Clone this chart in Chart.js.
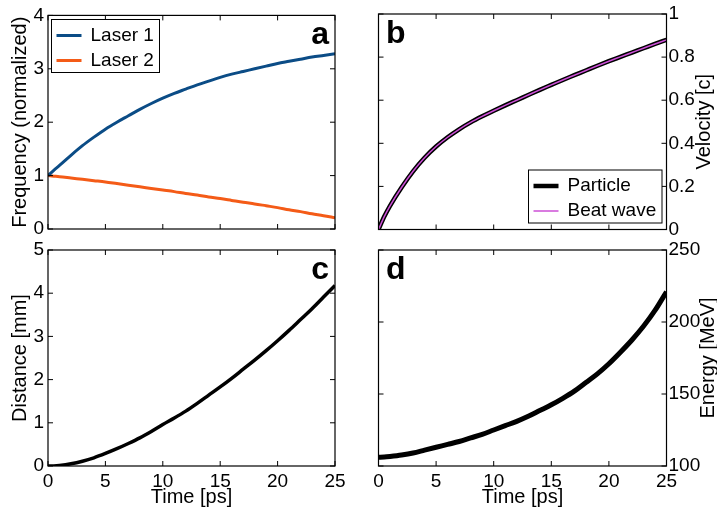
<!DOCTYPE html>
<html>
<head>
<meta charset="utf-8">
<title>Beat wave acceleration</title>
<script src="https://cdn.jsdelivr.net/npm/chart.js@4.4.1/dist/chart.umd.min.js"></script>
<style>
  html, body { margin: 0; padding: 0; background: #fff; }
  #wrap { position: relative; width: 717px; height: 508px; overflow: hidden; }
  #wrap canvas { position: absolute; left: 0; top: 0; }
</style>
</head>
<body>
<div id="wrap">
  <canvas id="panelA" width="717" height="508"></canvas>
  <canvas id="panelB" width="717" height="508"></canvas>
  <canvas id="panelC" width="717" height="508"></canvas>
  <canvas id="panelD" width="717" height="508"></canvas>
</div>
<script>
// values, time in ps
const time = [0, 0.5, 1, 2, 3, 4, 5, 6, 7, 8, 9, 10, 11, 12, 13, 14, 15, 16, 17, 18, 19, 20, 21, 22, 23, 24, 25];
const laser1 = [1.00, 1.10, 1.19, 1.38, 1.56, 1.72, 1.87, 2.00, 2.12, 2.24, 2.35, 2.45, 2.54, 2.62, 2.70, 2.77, 2.84, 2.90, 2.95, 3.00, 3.05, 3.10, 3.14, 3.18, 3.22, 3.25, 3.28];
const laser2 = [1.00, 0.99, 0.98, 0.955, 0.93, 0.905, 0.88, 0.85, 0.82, 0.79, 0.76, 0.73, 0.70, 0.665, 0.635, 0.60, 0.57, 0.535, 0.50, 0.47, 0.435, 0.40, 0.36, 0.325, 0.285, 0.25, 0.21];
const particleVelocity = [0, 0.06, 0.11, 0.195, 0.27, 0.333, 0.385, 0.428, 0.465, 0.497, 0.525, 0.551, 0.576, 0.60, 0.624, 0.648, 0.671, 0.694, 0.716, 0.738, 0.76, 0.781, 0.801, 0.821, 0.841, 0.861, 0.88];
const beatWaveVelocity = [0, 0.06, 0.11, 0.195, 0.27, 0.333, 0.385, 0.428, 0.465, 0.497, 0.525, 0.551, 0.576, 0.60, 0.624, 0.648, 0.671, 0.694, 0.716, 0.738, 0.76, 0.781, 0.801, 0.821, 0.841, 0.861, 0.88];
const distance = [0, 0.002, 0.012, 0.05, 0.11, 0.19, 0.29, 0.40, 0.52, 0.65, 0.80, 0.96, 1.11, 1.27, 1.45, 1.64, 1.83, 2.03, 2.24, 2.45, 2.67, 2.90, 3.14, 3.39, 3.64, 3.91, 4.18];
const energy = [106, 106.2, 106.6, 107.6, 109, 111, 113, 115, 117, 119.5, 122, 125, 128, 131, 134.5, 138.5, 142.5, 147, 152, 158, 164, 171, 179, 187.5, 197, 208, 221];

const FONT = "'Liberation Sans', Arial, Helvetica, sans-serif";
Chart.defaults.font.family = FONT;
Chart.defaults.font.size = 19;
Chart.defaults.color = '#000';

function pts(ys) {
    return time.map((t, i) => ({ x: t, y: ys[i] }));
}

// box round the plot, inward ticks on all four sides and the panel letter
const matlabFrame = {
    id: 'matlabFrame',
    afterDraw(chart, args, o) {
        const ctx = chart.ctx;
        const a = chart.chartArea;
        const sx = chart.scales.x, sy = chart.scales.y;
        ctx.save();
        ctx.strokeStyle = '#000';
        ctx.lineWidth = 1;
        ctx.beginPath();
        sx.ticks.forEach(t => {
            const px = sx.getPixelForValue(t.value);
            ctx.moveTo(px, a.bottom); ctx.lineTo(px, a.bottom - 5);
            ctx.moveTo(px, a.top); ctx.lineTo(px, a.top + 5);
        });
        sy.ticks.forEach(t => {
            const py = sy.getPixelForValue(t.value);
            ctx.moveTo(a.left, py); ctx.lineTo(a.left + 5, py);
            ctx.moveTo(a.right, py); ctx.lineTo(a.right - 5, py);
        });
        ctx.stroke();
        ctx.lineWidth = 1.2;
        ctx.strokeRect(a.left, a.top, a.right - a.left, a.bottom - a.top);

        // panel letter
        ctx.font = 'bold 32px ' + FONT;
        ctx.fillStyle = '#000';
        ctx.textBaseline = 'alphabetic';
        if (o.side === 'right') {
            ctx.textAlign = 'right';
            ctx.fillText(o.letter, a.right - 6, a.top + 28.5);
        } else {
            ctx.textAlign = 'left';
            ctx.fillText(o.letter, a.left + 7.5, a.top + 28.5);
        }

        // title of a right-hand axis, reading upwards like the left ones
        if (o.rightTitle) {
            ctx.font = '20px ' + FONT;
            ctx.textAlign = 'center';
            ctx.textBaseline = 'middle';
            ctx.translate(o.rightTitleX, (a.top + a.bottom) / 2);
            ctx.rotate(-Math.PI / 2);
            ctx.fillText(o.rightTitle, 0, 0);
        }
        ctx.restore();
    }
};

// legend in a framed box inside the plot
const boxLegend = {
    id: 'boxLegend',
    afterDraw(chart, args, o) {
        if (!o.show) return;
        const ctx = chart.ctx;
        ctx.save();
        ctx.fillStyle = '#fff';
        ctx.fillRect(o.x, o.y, o.w, o.h);
        ctx.strokeStyle = '#000';
        ctx.lineWidth = 1;
        ctx.strokeRect(o.x, o.y, o.w, o.h);
        ctx.font = '19px ' + FONT;
        ctx.textBaseline = 'middle';
        ctx.textAlign = 'left';
        chart.data.datasets.forEach((ds, i) => {
            const cy = o.y + 16 + i * 25;
            ctx.strokeStyle = ds.borderColor;
            ctx.lineWidth = ds.borderWidth;
            ctx.beginPath();
            ctx.moveTo(o.x + 5, cy);
            ctx.lineTo(o.x + 30, cy);
            ctx.stroke();
            ctx.fillStyle = '#000';
            ctx.fillText(ds.label, o.x + 39, cy);
        });
        ctx.restore();
    }
};

function timeAxis(showLabels) {
    return {
        type: 'linear',
        min: 0,
        max: 25,
        grid: { display: false, drawTicks: false },
        border: { display: false },
        ticks: { stepSize: 5, display: showLabels, padding: 4, maxRotation: 0, autoSkip: false },
        title: { display: showLabels, text: 'Time [ps]', font: { size: 20 }, padding: { top: 0, bottom: -1 } },
        afterFit: s => { s.height = showLabels ? 42 : 0; }
    };
}

function valueAxis(side, min, max, step, title) {
    return {
        type: 'linear',
        position: side,
        min: min,
        max: max,
        grid: { display: false, drawTicks: false },
        border: { display: false },
        ticks: {
            stepSize: step,
            padding: side === 'left' ? 4 : 2,
            callback: v => String(Number(v.toFixed(2)))
        },
        title: { display: side === 'left', text: title, font: { size: 20 }, padding: { top: 8, bottom: 0 } },
        afterFit: s => { s.width = side === 'left' ? 48 : 50; }
    };
}

function makePanel(id, datasets, yAxis, showTime, padding, frame, legend) {
    new Chart(document.getElementById(id), {
        type: 'line',
        data: { datasets: datasets },
        options: {
            responsive: false,
            devicePixelRatio: 1,
            animation: false,
            layout: { padding: padding },
            elements: { point: { radius: 0 }, line: { cubicInterpolationMode: 'monotone' } },
            scales: { x: timeAxis(showTime), y: yAxis },
            plugins: {
                legend: { display: false },
                tooltip: { enabled: false },
                matlabFrame: frame,
                boxLegend: legend || { show: false }
            }
        },
        plugins: [matlabFrame, boxLegend]
    });
}

// a: laser frequencies
makePanel('panelA', [
    { label: 'Laser 1', data: pts(laser1), borderColor: '#0b4c86', borderWidth: 3 },
    { label: 'Laser 2', data: pts(laser2), borderColor: '#f45b17', borderWidth: 3 }
], valueAxis('left', 0, 4, 1, 'Frequency (normalized)'), false,
    { top: 14, left: 0, right: 382, bottom: 279 },
    { letter: 'a', side: 'right' },
    { show: true, x: 51.5, y: 19.5, w: 108, h: 53 });

// b: velocities
makePanel('panelB', [
    { label: 'Particle', data: pts(particleVelocity), borderColor: '#000', borderWidth: 4.5, order: 1 },
    { label: 'Beat wave', data: pts(beatWaveVelocity), borderColor: '#cc4fd6', borderWidth: 1.5, order: 0 }
], valueAxis('right', 0, 1, 0.2, 'Velocity [c]'), false,
    { top: 14, left: 378.5, right: 0.5, bottom: 278.5 },
    { letter: 'b', side: 'left', rightTitle: 'Velocity [c]', rightTitleX: 704 },
    { show: true, x: 528.5, y: 170, w: 133.5, h: 53 });

// c: distance travelled
makePanel('panelC', [
    { label: 'Distance', data: pts(distance), borderColor: '#000', borderWidth: 3.5 }
], valueAxis('left', 0, 5, 1, 'Distance [mm]'), true,
    { top: 250, left: 0, right: 382, bottom: 0 },
    { letter: 'c', side: 'right' });

// d: particle energy
makePanel('panelD', [
    { label: 'Energy', data: pts(energy), borderColor: '#000', borderWidth: 5 }
], valueAxis('right', 100, 250, 50, 'Energy [MeV]'), true,
    { top: 250, left: 378.5, right: 0.5, bottom: 0 },
    { letter: 'd', side: 'left', rightTitle: 'Energy [MeV]', rightTitleX: 708 });
</script>
</body>
</html>
